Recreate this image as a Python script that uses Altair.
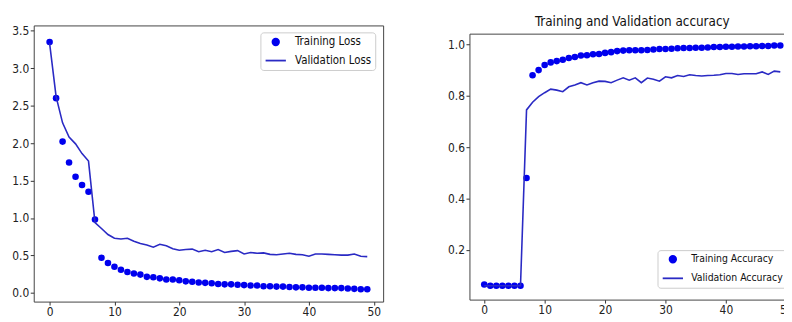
import altair as alt
import pandas as pd

epochs = list(range(50))

train_loss = [3.35, 2.60, 2.02, 1.74, 1.55, 1.44, 1.35, 0.98, 0.47, 0.40,
              0.35, 0.31, 0.28, 0.26, 0.245, 0.215, 0.21, 0.195, 0.18, 0.18,
              0.17, 0.155, 0.15, 0.14, 0.135, 0.13, 0.12, 0.115, 0.115, 0.11,
              0.105, 0.10, 0.10, 0.09, 0.09, 0.085, 0.085, 0.08, 0.075, 0.075,
              0.07, 0.07, 0.07, 0.065, 0.065, 0.065, 0.06, 0.055, 0.05, 0.05]
val_loss = [3.33, 2.62, 2.27, 2.08, 1.99, 1.86, 1.76, 0.94, 0.86, 0.78,
            0.73, 0.72, 0.73, 0.69, 0.66, 0.64, 0.61, 0.65, 0.63, 0.59,
            0.57, 0.58, 0.585, 0.55, 0.57, 0.55, 0.58, 0.54, 0.555, 0.565,
            0.52, 0.54, 0.53, 0.535, 0.515, 0.51, 0.52, 0.53, 0.515, 0.51,
            0.49, 0.52, 0.52, 0.515, 0.51, 0.505, 0.505, 0.52, 0.49, 0.485]

train_acc = [0.065, 0.06, 0.06, 0.06, 0.06, 0.06, 0.06, 0.48, 0.88, 0.90,
             0.92, 0.93, 0.935, 0.94, 0.947, 0.951, 0.957, 0.958, 0.962, 0.963,
             0.967, 0.97, 0.974, 0.976, 0.977, 0.977, 0.977, 0.978, 0.98, 0.982,
             0.982, 0.983, 0.985, 0.986, 0.986, 0.987, 0.987, 0.988, 0.99, 0.99,
             0.991, 0.991, 0.992, 0.992, 0.993, 0.993, 0.994, 0.994, 0.996, 0.996]
val_acc = [0.06, 0.06, 0.06, 0.06, 0.06, 0.06, 0.06, 0.745, 0.775, 0.797,
           0.812, 0.826, 0.822, 0.816, 0.835, 0.842, 0.851, 0.842, 0.851, 0.857,
           0.856, 0.851, 0.861, 0.87, 0.861, 0.87, 0.851, 0.869, 0.864, 0.857,
           0.874, 0.87, 0.879, 0.875, 0.882, 0.879, 0.877, 0.879, 0.88, 0.882,
           0.887, 0.887, 0.883, 0.886, 0.886, 0.886, 0.893, 0.883, 0.896, 0.893]

loss_series = ["Training Loss", "Validation Loss"]
acc_series = ["Training Accuracy", "Validation Accuracy"]
x_ticks = [0, 10, 20, 30, 40, 50]
loss_ticks = [0.0, 0.5, 1.0, 1.5, 2.0, 2.5, 3.0, 3.5]
acc_ticks = [0.2, 0.4, 0.6, 0.8, 1.0]
title_acc = "Training and Validation accuracy"

FONT = "DejaVu Sans Condensed, Liberation Sans, sans-serif"
DOT = "#0000ee"
LINE = "#2a2ac4"
FRAME = "#444444"


df_loss = pd.DataFrame({
    "epoch": epochs * 2,
    "value": train_loss + val_loss,
    "series": [loss_series[0]] * 50 + [loss_series[1]] * 50,
})
df_acc = pd.DataFrame({
    "epoch": epochs * 2,
    "value": train_acc + val_acc,
    "series": [acc_series[0]] * 50 + [acc_series[1]] * 50,
})


def encodings(names, lx, ly, fsize, offset):
    leg = alt.Legend(
        orient="none", legendX=lx, legendY=ly, title=None,
        strokeColor="#cccccc", fillColor="white", padding=4,
        cornerRadius=3, labelFont=FONT, labelFontSize=fsize, labelColor="#111",
        symbolStrokeColor=DOT, symbolStrokeWidth=1.8, labelOffset=offset,
        rowPadding=-2,
    )
    color = alt.Color("series:N", scale=alt.Scale(domain=names, range=[DOT, LINE]), legend=leg)
    shape = alt.Shape("series:N", scale=alt.Scale(domain=names, range=["circle", "stroke"]), legend=leg)
    size = alt.Size("series:N", scale=alt.Scale(domain=names, range=[44, 420]), legend=leg)
    return color, shape, size


# ---- left panel: loss ----
LH = 279
lc, ls, lsz = encodings(loss_series, 229, 7, 11.5, 8)
lx = alt.X("epoch:Q", scale=alt.Scale(domain=[-2.45, 51.45], nice=False, zero=False),
           axis=alt.Axis(values=x_ticks, title=None, format="d"))
ly = alt.Y("value:Q", scale=alt.Scale(domain=[-0.115, 3.57], nice=False, zero=False),
           axis=alt.Axis(values=loss_ticks, title=None, format=".1f"))
lbase = alt.Chart(df_loss)
left = alt.layer(
    lbase.transform_filter(alt.datum.series == loss_series[0]).mark_point(
        filled=True, opacity=1, clip=True).encode(x=lx, y=ly, color=lc, shape=ls, size=lsz),
    lbase.transform_filter(alt.datum.series == loss_series[1]).mark_line(
        strokeWidth=1.6, clip=True).encode(x=lx, y=ly, color=lc),
).properties(width=353, height=LH)

# ---- right panel: accuracy (cut off at the right edge, as in the original) ----
RH = 277
RTOP = 8.3
rc, rs, rsz = encodings(acc_series, 190, 227, 10.5, 7)
rscale_x = alt.Scale(domain=[-2.45, 51.45], nice=False, zero=False)
rx_bottom = alt.X("epoch:Q", scale=rscale_x,
                  axis=alt.Axis(values=x_ticks, title=None, format="d", domain=True,
                                domainColor=FRAME, domainWidth=1))
rx_top = alt.X("epoch:Q", scale=rscale_x,
               axis=alt.Axis(orient="top", offset=-RTOP, labels=False, ticks=False,
                             domain=True, domainColor=FRAME, domainWidth=1, title=None))
ry = alt.Y("value:Q", scale=alt.Scale(domain=[0.006, 1.042], nice=False, zero=False,
                                      range=[RH, RTOP]),
           axis=alt.Axis(values=acc_ticks, title=None, format=".1f", domain=True,
                         domainColor=FRAME, domainWidth=1))
rbase = alt.Chart(df_acc)
right = alt.layer(
    rbase.transform_filter(alt.datum.series == acc_series[0]).mark_point(
        filled=True, opacity=1, clip=True).encode(x=rx_bottom, y=ry, color=rc, shape=rs, size=rsz),
    rbase.transform_filter(alt.datum.series == acc_series[1]).mark_line(
        strokeWidth=1.6, clip=True).encode(x=rx_top, y=ry, color=rc),
).resolve_axis(x="independent").properties(
    width=329, height=RH,
    view=alt.ViewBackground(stroke="transparent"),
    title=alt.TitleParams(title_acc, font=FONT, fontSize=13.5, fontWeight="normal",
                          color="#111", offset=-3),
)

chart = alt.hconcat(left, right, spacing=63.2).resolve_scale(
    color="independent", shape="independent", size="independent"
).configure_view(stroke=FRAME, strokeWidth=1).configure_axis(
    grid=False, domain=False, tickColor="#333", tickSize=3.5, labelPadding=1.5,
    labelFont=FONT, labelFontSize=12, labelColor="#222",
).properties(
    autosize=alt.AutoSizeParams(type="none"),
    padding={"left": 26, "top": 16, "right": 758, "bottom": 298},
)

chart.save("out.html", embed_options={"renderer": "svg", "actions": False})
